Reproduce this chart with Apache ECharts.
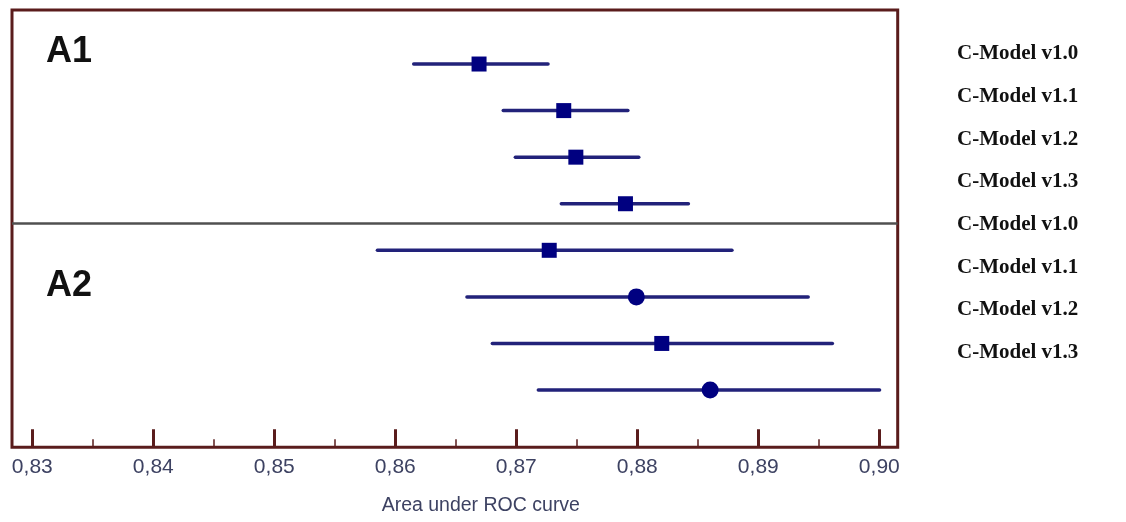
<!DOCTYPE html>
<html>
<head>
<meta charset="utf-8">
<script src="https://cdn.jsdelivr.net/npm/echarts@6/dist/echarts.min.js"></script>
<style>
  html, body { margin: 0; padding: 0; background: #ffffff; }
  #chart { width: 1126px; height: 522px; }
</style>
</head>
<body>
<div id="chart"></div>
<script>
// ---------------- data ----------------
const groups = ['A1', 'A2'];
const rowLabels = ['C-Model v1.0', 'C-Model v1.1', 'C-Model v1.2', 'C-Model v1.3',
                   'C-Model v1.0', 'C-Model v1.1', 'C-Model v1.2', 'C-Model v1.3'];
const rowIndex = [1, 2, 3, 4, 5, 6, 7, 8];
const estimates = [0.8669, 0.8739, 0.8749, 0.8790, 0.8727, 0.8799, 0.8820, 0.8860];
const lower     = [0.8615, 0.8689, 0.8699, 0.8737, 0.8585, 0.8659, 0.8680, 0.8718];
const upper     = [0.8726, 0.8792, 0.8801, 0.8842, 0.8878, 0.8941, 0.8961, 0.9000];
const groupSeparator = 4.41;
const xTickMin = 0.83, xTickMax = 0.90, xTickStep = 0.01;
const xAxisTitle = 'Area under ROC curve';

// ---------------- styles ----------------
const markerShapes = ['rect', 'rect', 'rect', 'rect', 'rect', 'circle', 'rect', 'circle'];
const frameColor = '#5a1c1c';
const ciColor = '#22227a';
const markerColor = '#000080';

const chart = echarts.init(document.getElementById('chart'), null, { renderer: 'canvas' });

const option = {
  backgroundColor: '#ffffff',
  animation: false,
  grid: [
    { left: 12, right: 228.3, top: 10, bottom: 74.7, show: true,
      borderColor: frameColor, borderWidth: 3, backgroundColor: 'transparent' },
    { left: 32.3, right: 246.7, top: 10, bottom: 74.7 },
    { left: 957, width: 130, top: 32.65, height: 341.4 }
  ],
  xAxis: [
    { gridIndex: 0, type: 'value', min: 0.8283, max: 0.9015, show: false },
    { gridIndex: 1, type: 'value', min: xTickMin, max: xTickMax, interval: xTickStep,
      axisLine: { show: false },
      axisTick: { show: true, inside: true, length: 18, lineStyle: { color: frameColor, width: 3 } },
      minorTick: { show: true, splitNumber: 2, length: 8, lineStyle: { color: frameColor, width: 1.5 } },
      splitLine: { show: false },
      axisLabel: {
        margin: 9, fontSize: 21, color: '#3d4262', fontFamily: 'Liberation Sans, Arial, sans-serif',
        formatter: v => v.toFixed(2).replace('.', ',')
      },
      name: xAxisTitle, nameLocation: 'middle', nameGap: 48,
      nameTextStyle: { fontSize: 19.5, color: '#3d4262', fontFamily: 'Liberation Sans, Arial, sans-serif',
                       padding: [0, 0, 0, 50] }
    },
    { gridIndex: 2, type: 'value', show: false }
  ],
  yAxis: [
    { gridIndex: 0, type: 'value', inverse: true, min: -0.16, max: 9.23, show: false },
    { gridIndex: 1, type: 'value', show: false },
    { gridIndex: 2, type: 'category', inverse: true, data: rowLabels,
      axisLine: { show: false }, axisTick: { show: false }, splitLine: { show: false },
      axisLabel: { inside: true, margin: 0, align: 'left', fontSize: 21, fontWeight: 'bold',
                   color: '#111111', fontFamily: 'Liberation Serif, Times New Roman, serif' } }
  ],
  graphic: [
    { type: 'text', left: 46, top: 34, style: { text: groups[0], font: 'bold 36px "Liberation Sans", Arial, sans-serif',
      fill: '#111111' } },
    { type: 'text', left: 46, top: 268, style: { text: groups[1], font: 'bold 36px "Liberation Sans", Arial, sans-serif',
      fill: '#111111' } }
  ],
  series: [
    {
      type: 'custom', xAxisIndex: 0, yAxisIndex: 0, silent: true,
      data: rowIndex.map((r, i) => [lower[i], upper[i], r]),
      encode: { x: [0, 1], y: 2 },
      renderItem: (params, api) => {
        const y = api.value(2);
        const p1 = api.coord([api.value(0), y]);
        const p2 = api.coord([api.value(1), y]);
        return { type: 'line', shape: { x1: p1[0], y1: p1[1], x2: p2[0], y2: p2[1] },
                 style: { stroke: ciColor, lineWidth: 3.5, lineCap: 'round' } };
      },
      markLine: {
        silent: true, symbol: 'none', label: { show: false },
        lineStyle: { color: '#505050', width: 2.5, type: 'solid' },
        data: [{ yAxis: groupSeparator }]
      },
      z: 2
    },
    {
      type: 'scatter', xAxisIndex: 0, yAxisIndex: 0, silent: true,
      data: rowIndex.map((r, i) => ({
        value: [estimates[i], r],
        symbol: markerShapes[i],
        symbolSize: markerShapes[i] === 'circle' ? 17 : 15
      })),
      itemStyle: { color: markerColor, opacity: 1 },
      z: 3
    }
  ]
};

chart.setOption(option);
</script>
</body>
</html>
